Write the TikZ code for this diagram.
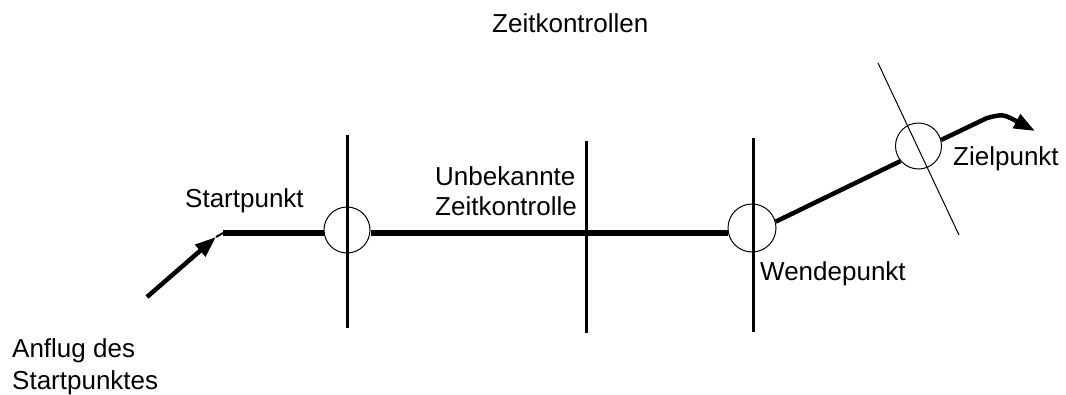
\documentclass[tikz,border=0pt]{standalone}
\usepackage{fontspec}
\setmainfont{Liberation Sans}
\usetikzlibrary{arrows.meta}
\begin{document}
\begin{tikzpicture}[x=1pt,y=-1pt,
  lbl/.style={anchor=base west,inner sep=0pt,font=\fontsize{26}{30}\selectfont},
  ring/.style={circle,draw,line width=1pt,inner sep=0pt},
  track/.style={line width=6pt},
  leg/.style={line width=4.5pt},
  gate/.style={line width=3pt},
  bigtip/.style={-{Triangle[length=21pt,width=15pt]}}]
\useasboundingbox (0,0) rectangle (1066,394);
% gates
\coordinate (v1t) at (347,135); \coordinate (v1b) at (347,328);
\coordinate (v2t) at (586,141); \coordinate (v2b) at (586,333);
\coordinate (v3t) at (753,138); \coordinate (v3b) at (753,332);
\coordinate (d1) at (878,63); \coordinate (d2) at (959,235);
\draw[gate] (v1t) -- (v1b);
\draw[gate] (v2t) -- (v2b);
\draw[gate] (v3t) -- (v3b);
\draw[line width=1pt] (d1) -- (d2);
% rings
\node[ring,minimum size=46pt] (c1) at (347,230) {};
\node[ring,minimum size=48pt] (c2) at (752,228) {};
\node[ring,minimum size=46pt] (c3) at (918.5,146) {};
% track
\coordinate (ap) at (147,297);
\coordinate (atip) at (216,237);
\coordinate (sp) at (223,233);
\coordinate (bend) at (987,118);
\coordinate (ztip) at (1035,131);
\draw[leg,bigtip] (ap) -- (atip);
\draw[line width=2pt] (atip) -- (sp);
\draw[track] (sp) -- (sp -| c1.west);
\draw[track] (sp -| c1.east) -- (sp -| c2.west);
\draw[leg] (c2.15) -- (c3.220);
\draw[leg,bigtip] (c3.15) -- (bend) .. controls (1003,114) .. (ztip);
% labels
\node[lbl] (t0) at (492,32) {Zeitkontrollen};
\node[lbl] (t1) at (185,207) {Startpunkt};
\node[lbl] (t2a) at (435,185) {Unbekannte};
\node[lbl] (t2b) at (435,215) {Zeitkontrolle};
\node[lbl] (t3) at (760,280) {Wendepunkt};
\node[lbl] (t4) at (953,165) {Zielpunkt};
\node[lbl] (t5a) at (12,357) {Anflug des};
\node[lbl] (t5b) at (12,389) {Startpunktes};
\end{tikzpicture}
\end{document}
